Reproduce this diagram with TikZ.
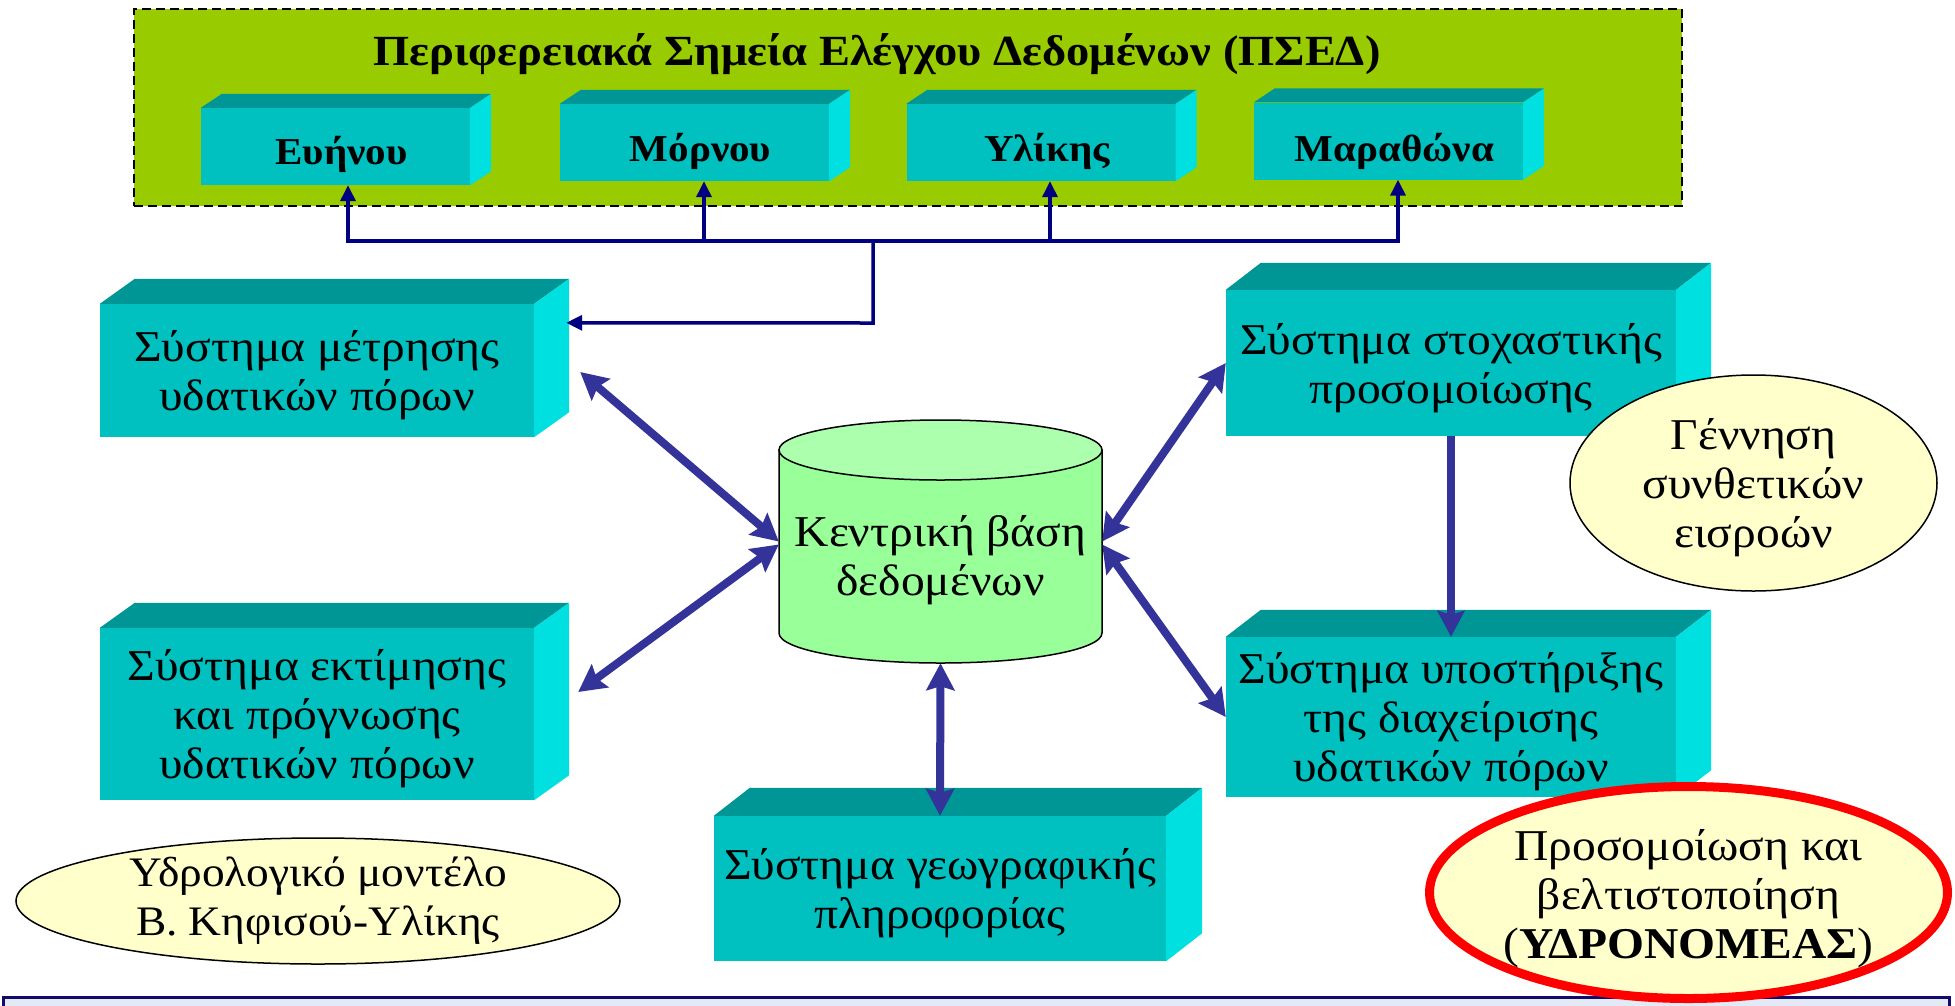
\documentclass[tikz,border=0pt]{standalone}
\usepackage{fontspec}
\setmainfont{Liberation Serif}[FakeStretch=1.08]
\usetikzlibrary{arrows.meta,calc,shapes.geometric}

\definecolor{panelgreen}{RGB}{153,204,0}
\definecolor{cubefront}{RGB}{0,192,192}
\definecolor{cubetop}{RGB}{0,150,150}
\definecolor{cubeside}{RGB}{0,224,224}
\definecolor{linknavy}{RGB}{0,0,128}
\definecolor{linkblue}{RGB}{51,51,153}
\definecolor{dbbody}{RGB}{153,255,153}
\definecolor{dbtop}{RGB}{172,255,172}
\definecolor{noteyellow}{RGB}{255,255,204}
\definecolor{footnavy}{RGB}{20,10,110}
\definecolor{footfill}{RGB}{227,234,245}

\newcommand\txtbody{\fontsize{44}{49}\selectfont}
\newcommand\txtnote{\fontsize{42}{49}\selectfont}
\newcommand\txttop{\fontsize{38}{42}\selectfont\bfseries}
\newcommand\txttitle{\fontsize{43}{48}\selectfont\bfseries}

% top and side faces of a 3-D block whose front face is node #1
\newcommand\cubefaces[3]{%
  \fill[cubetop] (#1.north west) -- ++(#2,-#3) -- ($(#1.north east)+(#2,-#3)$) -- (#1.north east) -- cycle;
  \fill[cubeside] (#1.north east) -- ++(#2,-#3) -- ($(#1.south east)+(#2,-#3)$) -- (#1.south east) -- cycle;}

\tikzset{
  panel/.style={draw=black, dashed, dash pattern=on 9pt off 5pt, line width=2pt, fill=panelgreen, inner sep=0pt},
  smallcube/.style={fill=cubefront, inner sep=0pt, minimum width=269pt, minimum height=77pt},
  bigcube/.style={fill=cubefront, inner sep=0pt},
  toplabel/.style={anchor=base, font=\txttop, inner sep=0pt},
  cubetext/.style={align=center, font=\txtbody, inner sep=0pt},
  navylink/.style={draw=linknavy, line width=3.5pt, line join=miter},
  navytip/.style={-{Triangle[length=16pt,width=15pt]}},
  bluelink/.style={draw=linkblue, line width=8pt},
  bluetips/.style={{Stealth[length=27pt,width=28pt,inset=4pt]}-{Stealth[length=27pt,width=28pt,inset=4pt]}},
  bluetip/.style={-{Stealth[length=26pt,width=27pt,inset=4pt]}},
  note/.style={ellipse, draw=black, line width=1.5pt, fill=noteyellow, inner sep=0pt},
  notetext/.style={align=center, font=\txtbody, inner sep=0pt},
}

\begin{document}
\begin{tikzpicture}[x=1pt,y=-1pt]
\useasboundingbox (0,0) rectangle (1955,1005);

% data control points panel
\node[panel, minimum width=1548pt, minimum height=197pt] (psed) at (908,107.5) {};
\node[anchor=base, font=\txttitle, inner sep=0pt] (psedtitle) at (877,65)
  {Περιφερειακά Σημεία Ελέγχου Δεδομένων (ΠΣΕΔ)};

\node[smallcube] (evinou) at (335.5,146.5) {};
\node[smallcube] (mornou) at (694.5,142.5) {};
\node[smallcube] (ylikis) at (1041,142.5) {};
\node[smallcube] (marathon) at (1388.5,141) {};
\cubefaces{evinou}{21}{14}
\cubefaces{mornou}{21}{14}
\cubefaces{ylikis}{21}{14}
\cubefaces{marathon}{21}{14}
\node[toplabel] (evinoulbl) at ([xshift=6pt,yshift=-18pt]evinou.center) {Ευήνου};
\node[toplabel] (mornoulbl) at ([xshift=6pt,yshift=-19pt]mornou.center) {Μόρνου};
\node[toplabel] (ylikislbl) at ([xshift=6pt,yshift=-19pt]ylikis.center) {Υλίκης};
\node[toplabel] (marathonlbl) at ([xshift=6pt,yshift=-20pt]marathon.center) {Μαραθώνα};

% system blocks
\node[bigcube, minimum width=434pt, minimum height=133pt] (meas) at (317,370.5) {};
\cubefaces{meas}{35}{25}
\node[cubetext] (meastext) at ([yshift=-5pt]meas.center) {Σύστημα μέτρησης\\υδατικών πόρων};
\node[bigcube, minimum width=434pt, minimum height=172pt] (est) at (317,714) {};
\cubefaces{est}{35}{25}
\node[cubetext] (esttext) at ([yshift=-5pt]est.center) {Σύστημα εκτίμησης\\και πρόγνωσης\\υδατικών πόρων};
\node[bigcube, minimum width=450pt, minimum height=146pt] (stoch) at (1451,363) {};
\cubefaces{stoch}{35}{27}
\node[cubetext] (stochtext) at ([yshift=-5pt]stoch.center) {Σύστημα στοχαστικής\\προσομοίωσης};
\node[bigcube, minimum width=450pt, minimum height=160pt] (supp) at (1451,717) {};
\cubefaces{supp}{35}{27}
\node[cubetext] (supptext) at ([yshift=-5pt]supp.center) {Σύστημα υποστήριξης\\της διαχείρισης\\υδατικών πόρων};
\node[bigcube, minimum width=452pt, minimum height=145pt] (gis) at (940,888.5) {};
\cubefaces{gis}{36}{28}
\node[cubetext] (gistext) at ([yshift=-5pt]gis.center) {Σύστημα γεωγραφικής\\πληροφορίας};

% links from the data control points
\coordinate (hub) at (873,241);
\coordinate (knee) at (873,323);
\draw[navylink, navytip] (hub) -| ([xshift=12.5pt]evinou.south);
\draw[navylink, navytip] (hub) -| ([xshift=9.5pt]mornou.south);
\draw[navylink, navytip] (hub) -| ([xshift=9pt]ylikis.south);
\draw[navylink, navytip] (hub) -| ([xshift=9.5pt]marathon.south);
\draw[navylink, navytip] (hub) -- (knee) -- ($(meas.north east)+(32,19)$);

% central database
\node[inner sep=0pt, minimum width=323pt, minimum height=243pt] (db) at (940.5,541.5) {};
\filldraw[fill=dbbody, draw=black, line width=1.5pt]
  (779,450) -- (779,633) arc[start angle=180, end angle=360, x radius=161.5pt, y radius=30pt]
  -- (1102,450) -- cycle;
\filldraw[fill=dbtop, draw=black, line width=1.5pt] (940.5,450) ellipse[x radius=161.5pt, y radius=30pt];
\node[notetext] (dbtext) at (940.5,560) {Κεντρική βάση\\δεδομένων};

% links to the database
\draw[bluelink, bluetips] ($(meas.east)+(46,1.5)$) -- (db.west);
\draw[bluelink, bluetips] ($(est.east)+(44,-22)$) -- ([yshift=-3pt]db.west);
\draw[bluelink, bluetips] (stoch.west) -- (db.east);
\draw[bluelink, bluetips] ([yshift=-3pt]db.east) -- (supp.west);
\draw[bluelink, bluetips] (db.south) -- (gis.north);
\draw[bluelink, bluetip] (stoch.south) -- (supp.north);

% footer band
\node[draw=footnavy, fill=footfill, line width=3pt, minimum width=1946pt, minimum height=40pt,
  anchor=north west, inner sep=0pt] (footer) at (2,996) {};

% notes
\node[note, minimum width=604pt, minimum height=126pt] (hydro) at (318,901) {};
\node[notetext, font=\txtnote] (hydrotext) at (hydro.center) {Υδρολογικό μοντέλο\\Β. Κηφισού-Υλίκης};
\node[note, minimum width=367pt, minimum height=216pt] (synth) at (1753.5,483) {};
\node[notetext] (synthtext) at ([yshift=-5pt]synth.center) {Γέννηση\\συνθετικών\\εισροών};
\node[note, draw=red, line width=9pt, minimum width=518pt, minimum height=212pt] (hydronomeas) at (1688.5,892.5) {};
\node[notetext] (hydronomeastext) at ([yshift=-6pt]hydronomeas.center)
  {Προσομοίωση και\\βελτιστοποίηση\\(\textbf{ΥΔΡΟΝΟΜΕΑΣ})};
\end{tikzpicture}
\end{document}
